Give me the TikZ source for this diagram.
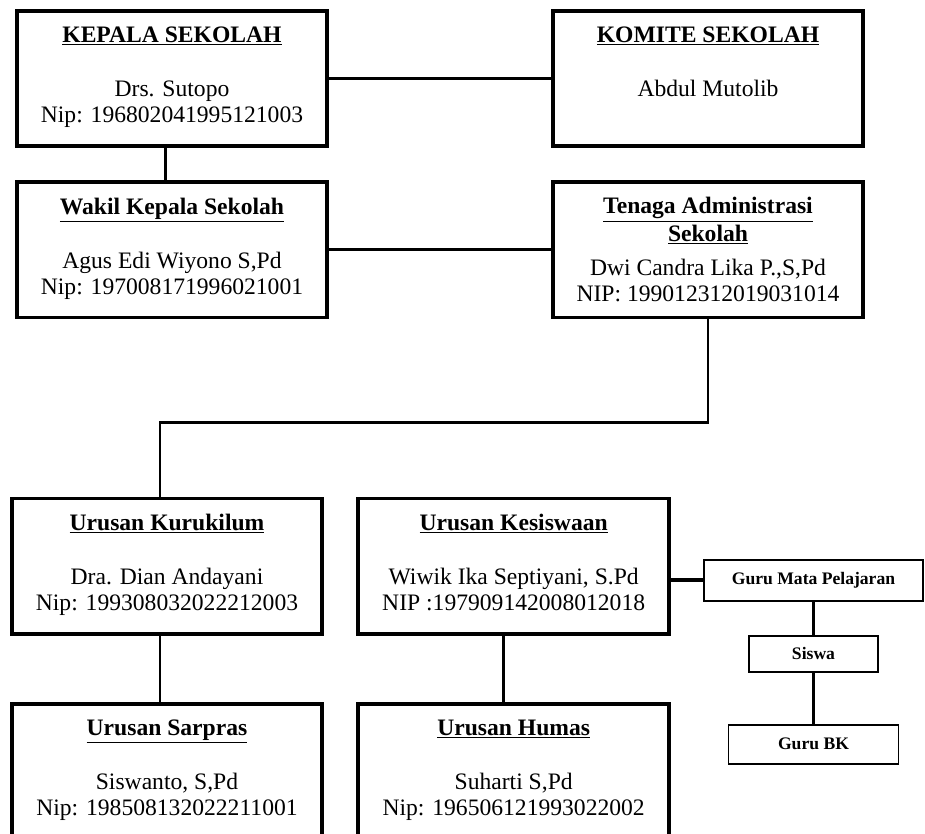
\documentclass[tikz,border=0pt]{standalone}
\usepackage{fontspec}
\setmainfont{Liberation Serif}
\usetikzlibrary{positioning}

\begin{document}
\begin{tikzpicture}[
  font=\fontsize{17.7}{19.5}\selectfont,
  node distance=27pt,
  unit/.style={
    draw, line width=2.8pt, align=center,
    minimum width=233pt, minimum height=101.5pt,
    inner sep=0pt, outer sep=0pt
  },
  staff/.style={
    draw, line width=1.2pt, align=center, inner sep=0pt, outer sep=0pt,
    font=\fontsize{13.2}{15}\selectfont\bfseries
  },
  link/.style={line width=2.2pt}
]
\useasboundingbox (0,0) rectangle (693.75pt,-625.5pt);
\node[unit] (kepala) at (129pt,-58.9pt) {\underline{\textbf{KEPALA SEKOLAH}}\\[21pt]
Drs. Sutopo\\ Nip: 196802041995121003\strut};
\node[unit, right=169pt of kepala] (komite) {\underline{\textbf{KOMITE SEKOLAH}}\\[21pt]
Abdul Mutolib\\ \strut};
\node[unit, below=of kepala] (wakil) {\underline{\textbf{Wakil Kepala Sekolah}}\\[21pt]
Agus Edi Wiyono S,Pd\\ Nip: 197008171996021001\strut};
\node[unit, below=of komite] (tenaga) {\underline{\textbf{Tenaga Administrasi}}\\[1pt]
\underline{\textbf{Sekolah}}\\[6.5pt]
Dwi Candra Lika P.,S,Pd\\ NIP: 199012312019031014};
\node[unit, below=135.75pt of wakil, xshift=-3.75pt] (kurikulum) {\underline{\textbf{Urusan Kurukilum}}\\[21pt]
Dra. Dian Andayani\\ Nip: 199308032022212003\strut};
\node[unit, right=of kurikulum] (kesiswaan) {\underline{\textbf{Urusan Kesiswaan}}\\[21pt]
Wiwik Ika Septiyani, S.Pd\\ NIP :197909142008012018\strut};
\node[unit, below=52.5pt of kurikulum] (sarpras) {\underline{\textbf{Urusan Sarpras}}\\[21pt]
Siswanto, S,Pd\\ Nip: 198508132022211001\strut};
\node[unit, below=52.5pt of kesiswaan] (humas) {\underline{\textbf{Urusan Humas}}\\[21pt]
Suharti S,Pd\\ Nip: 196506121993022002\strut};
\node[staff, minimum width=164.25pt, minimum height=30.75pt,
  right=26.25pt of kesiswaan, yshift=-10.5pt] (gurumapel) {Guru Mata Pelajaran};
\node[staff, minimum width=96.75pt, minimum height=27pt,
  below=26.25pt of gurumapel] (siswa) {Siswa};
\node[staff, minimum width=127.5pt, minimum height=29.25pt,
  below=39.75pt of siswa] (gurubk) {Guru BK};

\draw[link] (kepala.east) -- (komite.west);
\draw[link] ([xshift=-5pt]kepala.south) -- ([xshift=-5pt]wakil.north);
\draw[link] (wakil.east) -- (tenaga.west);
\draw[link] (tenaga.south) -- ++(0,-78.75pt) -| ([xshift=-5.25pt]kurikulum.north);
\draw[link] ([xshift=-5.25pt]kurikulum.south) -- ([xshift=-5.25pt]sarpras.north);
\draw[link] ([xshift=-7.7pt]kesiswaan.south) -- ([xshift=-7.7pt]humas.north);
\draw[link, line width=3pt] (kesiswaan.east |- gurumapel.west) -- (gurumapel.west);
\draw[link] (gurumapel) -- (siswa);
\draw[link] (siswa) -- (gurubk);
\end{tikzpicture}
\end{document}
